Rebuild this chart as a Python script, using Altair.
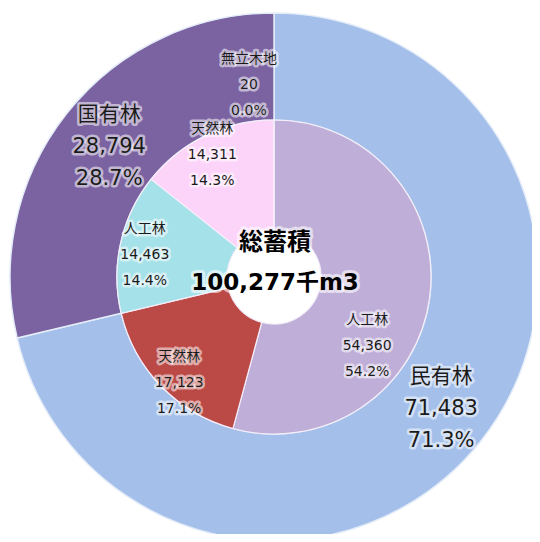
import altair as alt
import pandas as pd

# ---- data ----
outer_names = ["民有林", "国有林"]
outer_values = [71483, 28794]

inner_names = ["人工林", "天然林", "人工林", "天然林", "無立木地"]
inner_values = [54360, 17123, 14463, 14311, 20]

center_title = "総蓄積"
unit = "千m3"

# ---- styles / layout ----
outer_colors = ["#a4c0ea", "#7b63a1"]
inner_colors = ["#bfaed7", "#bb4a47", "#a5e1e9", "#fdd4f9", "#fdd4f9"]
outer_label_r = [213, 210]
outer_nudge_deg = [0, 0]
inner_label_r = [116, 142, 131, 137, 194]
inner_nudge_deg = [29, -4, -3, -1, -7.4]

FONT = "'DejaVu Sans', 'Noto Sans CJK JP', sans-serif"
CX, CY = 266, 269
R_OUT, R_MID, R_HOLE = 264, 157, 47

total = sum(outer_values)


def build(names, values, prefix, label_r, nudges):
    rows = []
    cum = 0
    for i, (n, v) in enumerate(zip(names, values)):
        mid = cum + v / 2 + nudges[i] / 360 * total
        rows.append({
            "key": f"{prefix}{i}",
            "idx": i,
            "value": v,
            "mid": mid,
            "lr": label_r[i],
            "label": f"{n}\n{v:,}\n{v / total * 100:.1f}%",
        })
        cum += v
    return pd.DataFrame(rows)


outer_df = build(outer_names, outer_values, "o", outer_label_r, outer_nudge_deg)
inner_df = build(inner_names, inner_values, "i", inner_label_r, inner_nudge_deg)

keys = list(outer_df["key"]) + list(inner_df["key"])
color_scale = alt.Scale(domain=keys, range=outer_colors + inner_colors)
theta_scale = alt.Scale(domain=[0, total])

outer_arc = alt.Chart(outer_df).mark_arc(
    radius=R_OUT, radius2=R_MID, stroke="#e4ecf8", strokeWidth=1.5
).encode(
    theta=alt.Theta("value:Q", stack=True, scale=theta_scale),
    order=alt.Order("idx:Q"),
    color=alt.Color("key:N", scale=color_scale, legend=None),
    x=alt.value(CX), y=alt.value(CY),
)

inner_arc = alt.Chart(inner_df).mark_arc(
    radius=R_MID, radius2=R_HOLE, stroke="#f4eefa", strokeWidth=1.2
).encode(
    theta=alt.Theta("value:Q", stack=True, scale=theta_scale),
    order=alt.Order("idx:Q"),
    color=alt.Color("key:N", scale=color_scale, legend=None),
    x=alt.value(CX), y=alt.value(CY),
)


def labels(df, size, lh):
    base = alt.Chart(df).encode(
        theta=alt.Theta("mid:Q", stack=None, scale=theta_scale),
        radius=alt.Radius("lr:Q", scale=None),
        text="label:N",
        x=alt.value(CX), y=alt.value(CY),
    )
    common = dict(lineBreak="\n", fontSize=size, lineHeight=lh, font=FONT,
                  align="center", baseline="middle", dy=-lh)
    glow = base.mark_text(fill="white", stroke="white", strokeWidth=5,
                          strokeOpacity=0.55, fillOpacity=0.6,
                          strokeJoin="round", **common)
    txt = base.mark_text(fill="#1a1a1a", **common)
    return glow + txt


def center_text(s, yy, size):
    d = pd.DataFrame({"t": [s]})
    base = alt.Chart(d).encode(text="t:N", x=alt.value(CX + 1), y=alt.value(yy))
    common = dict(fontSize=size, font=FONT, fontWeight="bold",
                  align="center", baseline="middle")
    glow = base.mark_text(fill="white", stroke="white", strokeWidth=6,
                          strokeOpacity=0.6, strokeJoin="round", **common)
    txt = base.mark_text(fill="#000000", **common)
    return glow + txt


chart = alt.layer(
    outer_arc,
    inner_arc,
    labels(outer_df, 21, 32),
    labels(inner_df, 14, 26),
    center_text(center_title, 235, 24),
    center_text(f"{total:,}{unit}", 275, 23),
).properties(
    width=524, height=526, padding=0,
    autosize=alt.AutoSizeParams(type="none"),
    background="white",
).configure_view(stroke=None)

chart.save("out.html", embed_options={"renderer": "svg", "actions": False})
